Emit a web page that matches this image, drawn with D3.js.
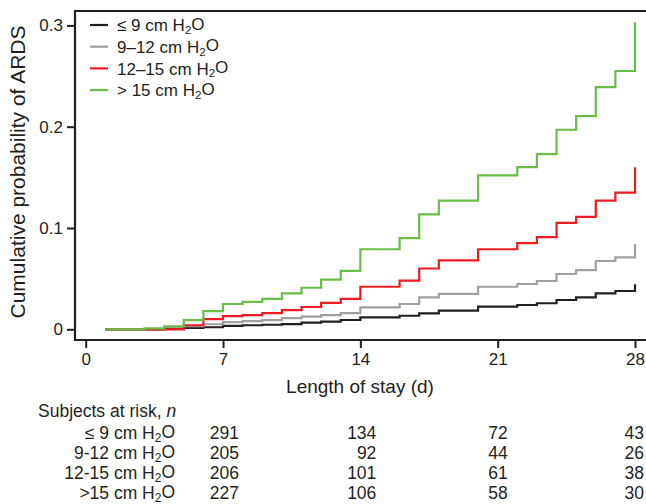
<!DOCTYPE html>
<html>
<head>
<meta charset="utf-8">
<script src="https://cdn.jsdelivr.net/npm/d3@7"></script>
<style>
    body { margin: 0; background: #fff; }
    #chart { width: 646px; height: 504px; }
    text { font-family: "Liberation Sans", Arial, sans-serif; fill: #231f20; }
</style>
</head>
<body>
<div id="chart"></div>
<script>
// days where at least one curve steps up (value holds until next day in list)
const stepDays = [1, 3, 4, 5, 6, 7, 8, 9, 10, 11, 12, 13, 14, 16, 17, 18, 20, 22, 23, 24, 25, 26, 27, 28];

const lowValues = [0, 0, 0.001, 0.0015, 0.002, 0.0033, 0.004, 0.0045, 0.0052, 0.0065, 0.0075, 0.0092, 0.0118, 0.0134, 0.0158, 0.0184, 0.0223, 0.024, 0.0257, 0.0289, 0.0316, 0.0355, 0.0378, 0.0444];
const midValues = [0, 0, 0.002, 0.003, 0.005, 0.007, 0.008, 0.009, 0.011, 0.0125, 0.014, 0.016, 0.0217, 0.025, 0.0316, 0.0349, 0.042, 0.0447, 0.0477, 0.0546, 0.0585, 0.0674, 0.0711, 0.0842];
const highValues = [0, 0, 0, 0.004, 0.010, 0.013, 0.014, 0.016, 0.019, 0.022, 0.026, 0.030, 0.042, 0.048, 0.060, 0.068, 0.079, 0.085, 0.091, 0.105, 0.111, 0.127, 0.135, 0.160];
const topValues = [0, 0.001, 0.003, 0.009, 0.018, 0.025, 0.027, 0.030, 0.0355, 0.041, 0.049, 0.0576, 0.079, 0.090, 0.1135, 0.127, 0.152, 0.160, 0.173, 0.197, 0.2105, 0.239, 0.255, 0.303];

const legendLabels = ["≤ 9 cm H2O", "9–12 cm H2O", "12–15 cm H2O", "> 15 cm H2O"];
const tableLabels = ["≤ 9 cm H2O", "9-12 cm H2O", "12-15 cm H2O", ">15 cm H2O"];
const colors = ["#231f20", "#a0a0a0", "#ed1c24", "#6abd45"];

const xTicks = [0, 7, 14, 21, 28];
const yTicks = [0, 0.1, 0.2, 0.3];

const riskDays = [7, 14, 21, 28];
const riskLow = [291, 134, 72, 43];
const riskMid = [205, 92, 44, 26];
const riskHigh = [206, 101, 61, 38];
const riskTop = [227, 106, 58, 30];

class KMVis {

    constructor(parentElement) {
        this.parentElement = parentElement;
        this.initVis()
    }

    initVis() {
        let vis = this

        vis.width = 646;
        vis.height = 504;

        vis.svg = d3.select("#" + vis.parentElement).append("svg")
            .attr("width", vis.width)
            .attr("height", vis.height);

        // plot box
        vis.box = {left: 75, top: 11, bottom: 340};

        vis.x = d3.scaleLinear().domain([0, 28]).range([85.7, 635]);
        vis.y = d3.scaleLinear().domain([0, 0.3]).range([329.3, 25.4]);

        vis.wrangleData()
    }

    wrangleData() {
        let vis = this

        const all = [lowValues, midValues, highValues, topValues];
        vis.series = all.map((vals, i) => ({
            color: colors[i],
            points: stepDays.map((d, j) => ({day: d, value: vals[j]}))
        }));
        vis.risk = [riskLow, riskMid, riskHigh, riskTop];

        vis.updateVis()
    }

    // writes "… H2O" with a subscript 2
    addLabel(sel, label) {
        const idx = label.indexOf("H2O");
        sel.append("tspan").text(label.slice(0, idx + 1));
        sel.append("tspan").text("2").attr("font-size", "0.68em").attr("dy", "0.25em");
        sel.append("tspan").text("O").attr("dy", "-0.25em");
    }

    updateVis() {
        let vis = this

        // frame (right edge is cut off by the picture)
        vis.svg.append("path")
            .attr("d", `M660,${vis.box.top}H${vis.box.left}V${vis.box.bottom}H660`)
            .attr("fill", "none")
            .attr("stroke", "#231f20")
            .attr("stroke-width", 2.2);

        // y axis
        const yAxis = d3.axisLeft(vis.y).tickValues(yTicks)
            .tickFormat(d => d === 0 ? "0" : d3.format(".1f")(d))
            .tickSize(8).tickPadding(4);
        const yg = vis.svg.append("g")
            .attr("transform", `translate(${vis.box.left},0)`)
            .call(yAxis);
        yg.select(".domain").remove();

        // x axis
        const xAxis = d3.axisBottom(vis.x).tickValues(xTicks).tickSize(8).tickPadding(5);
        const xg = vis.svg.append("g")
            .attr("transform", `translate(0,${vis.box.bottom})`)
            .call(xAxis);
        xg.select(".domain").remove();

        vis.svg.selectAll(".tick line").attr("stroke", "#231f20").attr("stroke-width", 2);
        vis.svg.selectAll(".tick text")
            .attr("font-size", "17px")
            .attr("fill", "#231f20")
            .style("font-family", '"Liberation Sans", Arial, sans-serif');

        // axis titles
        vis.svg.append("text")
            .attr("transform", "translate(25,172) rotate(-90)")
            .attr("text-anchor", "middle")
            .attr("font-size", "21px")
            .text("Cumulative probability of ARDS");

        vis.svg.append("text")
            .attr("x", 360).attr("y", 393)
            .attr("text-anchor", "middle")
            .attr("font-size", "19px")
            .text("Length of stay (d)");

        // curves
        const line = d3.line()
            .x(d => vis.x(d.day))
            .y(d => vis.y(d.value))
            .curve(d3.curveStepAfter);

        vis.svg.selectAll(".curve")
            .data(vis.series)
            .enter()
            .append("path")
            .attr("class", "curve")
            .attr("fill", "none")
            .attr("stroke", d => d.color)
            .attr("stroke-width", 2.2)
            .attr("d", d => line(d.points));

        // legend
        const legend = vis.svg.selectAll(".legend")
            .data(legendLabels)
            .enter()
            .append("g")
            .attr("class", "legend")
            .attr("transform", (d, i) => `translate(90,${25 + i * 21.7})`);

        legend.append("line")
            .attr("x1", 0).attr("x2", 18)
            .attr("stroke", (d, i) => colors[i])
            .attr("stroke-width", 2.2);

        legend.append("text")
            .attr("x", 27).attr("dy", "0.36em")
            .attr("font-size", "17px")
            .each(function (d) { vis.addLabel(d3.select(this), d); });

        // subjects at risk table
        vis.svg.append("text")
            .attr("x", 38).attr("y", 417)
            .attr("font-size", "17.5px")
            .html('Subjects at risk, <tspan font-style="italic">n</tspan>');

        const colOffset = [16, 16, 10, 9];
        tableLabels.forEach((lab, i) => {
            const rowY = 439 + i * 20;
            vis.svg.append("text")
                .attr("x", 175).attr("y", rowY)
                .attr("text-anchor", "end")
                .attr("font-size", "17.5px")
                .call(sel => vis.addLabel(sel, lab));

            vis.risk[i].forEach((n, j) => {
                vis.svg.append("text")
                    .attr("x", vis.x(riskDays[j]) + colOffset[j])
                    .attr("y", rowY)
                    .attr("text-anchor", "end")
                    .attr("font-size", "17.5px")
                    .text(n);
            });
        });
    }
}

new KMVis("chart");
</script>
</body>
</html>
